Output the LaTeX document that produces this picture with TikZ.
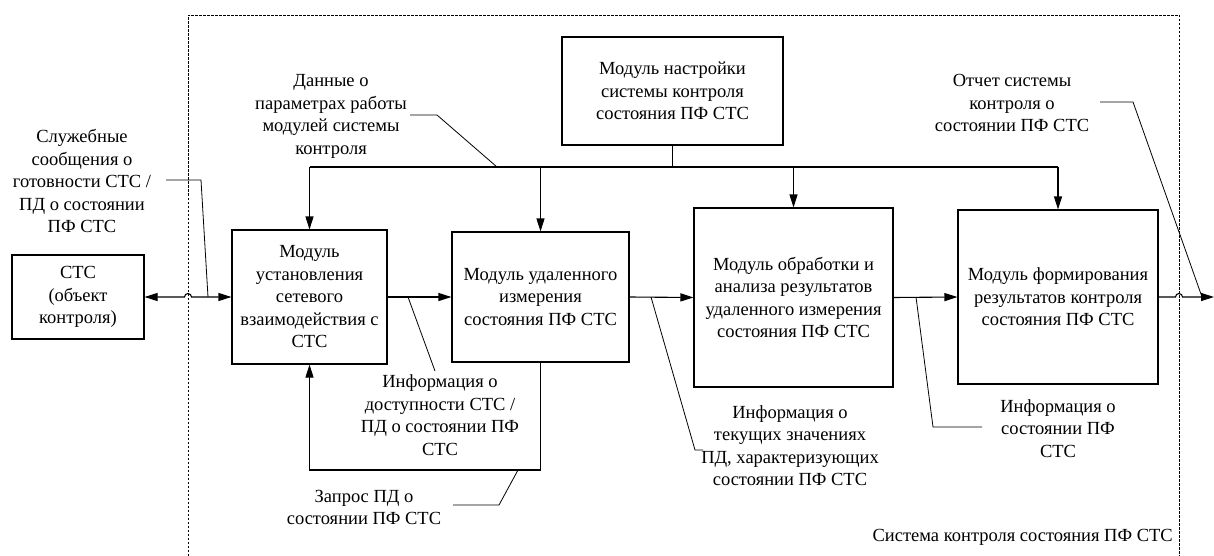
\documentclass[tikz,border=0pt]{standalone}
\usepackage{fontspec}
\setmainfont{Liberation Serif}
\usetikzlibrary{arrows.meta}
\tikzset{
  modbox/.style={draw, line width=1.1pt, inner sep=0pt, align=center, font=\fontsize{18.5}{22.5}\selectfont},
  lbl/.style={inner sep=0pt, align=center, font=\fontsize{18.5}{22.5}\selectfont},
  flow/.style={line width=1.1pt, -{Triangle[length=13pt,width=8pt]}},
  leader/.style={line width=0.8pt},
  sysframe/.style={line width=0.8pt, dash pattern=on 2.5pt off 1.5pt}
}
\begin{document}
\begin{tikzpicture}[x=1pt,y=-1pt]
\useasboundingbox (0,0) rectangle (1214,556);
% system frame
\draw[sysframe] (188,556) -- (188,15) -- (1179,15) -- (1179,556);
\node[lbl, anchor=east] (sys) at (1173,537) {Система контроля состояния ПФ СТС};

% modules
\node[modbox, minimum width=132pt, minimum height=84pt] (cts) at (78,297) {СТС\\(объект\\контроля)};
\node[modbox, minimum width=155pt, minimum height=134pt] (m1) at (309.5,297) {Модуль\\установления\\сетевого\\взаимодействия с\\СТС};
\node[modbox, minimum width=177pt, minimum height=130pt] (m2) at (540.5,297) {Модуль удаленного\\измерения\\состояния ПФ СТС};
\node[modbox, minimum width=199pt, minimum height=179pt] (m3) at (793.5,297.5) {Модуль обработки и\\анализа результатов\\удаленного измерения\\состояния ПФ СТС};
\node[modbox, minimum width=200pt, minimum height=174pt] (m4) at (1058,297) {Модуль формирования\\результатов контроля\\состояния ПФ СТС};
\node[modbox, minimum width=221pt, minimum height=108pt] (setup) at (672.5,91) {Модуль настройки\\системы контроля\\состояния ПФ СТС};

% labels
\node[lbl] (lsl) at (82,181) {Служебные\\сообщения о\\готовности СТС /\\ПД о состоянии\\ПФ СТС};
\node[lbl] (ldata) at (331,116.5) {Данные о\\параметрах работы\\модулей системы\\контроля};
\node[lbl] (linfo1) at (440,415) {Информация о\\доступности СТС /\\ПД о состоянии ПФ\\СТС};
\node[lbl] (lreq) at (364,507.5) {Запрос ПД о\\состоянии ПФ СТС};
\node[lbl] (linfo2) at (790,445.5) {Информация о\\текущих значениях\\ПД, характеризующих\\состоянии ПФ СТС};
\node[lbl] (linfo3) at (1058,428.5) {Информация о\\состоянии ПФ\\СТС};
\node[lbl] (lrep) at (1012,103) {Отчет системы\\контроля о\\состоянии ПФ СТС};

% bus from setup module
\coordinate (bus) at (0,167);
\draw[line width=1.1pt] (m1.north |- bus) -- (m4.north |- bus);
\draw[line width=1.1pt] (setup.south) -- (setup.south |- bus);
\draw[flow] (m1.north |- bus) -- (m1.north);
\draw[flow] (m2.north |- bus) -- (m2.north);
\draw[flow] (m3.north |- bus) -- (m3.north);
\draw[flow] (m4.north |- bus) -- (m4.north);

% main flow
\coordinate (hop1) at (188,297);
\draw[line width=1.1pt, {Triangle[length=13pt,width=8pt]}-{Triangle[length=13pt,width=8pt]}]
  (cts.east) -- ([xshift=-3.5pt]hop1) arc[start angle=180,end angle=0,radius=3.5pt] -- (m1.west);
\draw[flow] (m1.east) -- (m2.west);
\draw[flow] (m2.east) -- (m3.west);
\draw[flow] (m3.east) -- (m4.west);
\coordinate (hop2) at (1179,297);
\coordinate (outend) at (1214,297);
\draw[flow] (m4.east) -- ([xshift=-3.5pt]hop2) arc[start angle=180,end angle=0,radius=3.5pt] -- (outend);

% feedback loop
\coordinate (loopy) at (0,470);
\draw[flow] (m2.south) -- (m2.south |- loopy) -- (m1.south |- loopy) -- (m1.south);

% leaders
\coordinate (slA) at (166,180); \coordinate (slB) at (201,180); \coordinate (slC) at (208,297);
\draw[leader] (slA) -- (slB) -- (slC);
\coordinate (dA) at (410,115); \coordinate (dB) at (437,115); \coordinate (dC) at (497,167);
\draw[leader] (dA) -- (dB) -- (dC);
\coordinate (i1A) at (408,297); \coordinate (i1B) at (435,371);
\draw[leader] (i1A) -- (i1B);
\coordinate (rA) at (453,505); \coordinate (rB) at (499,505); \coordinate (rC) at (518,470);
\draw[leader] (rA) -- (rB) -- (rC);
\coordinate (i2A) at (651,297); \coordinate (i2B) at (695,450); \coordinate (i2C) at (703,450);
\draw[leader] (i2A) -- (i2B) -- (i2C);
\coordinate (i3A) at (916,297); \coordinate (i3B) at (933,427); \coordinate (i3C) at (982,427);
\draw[leader] (i3A) -- (i3B) -- (i3C);
\coordinate (oA) at (1100,102); \coordinate (oB) at (1133,102); \coordinate (oC) at (1202,297);
\draw[leader] (oA) -- (oB) -- (oC);
\end{tikzpicture}
\end{document}
